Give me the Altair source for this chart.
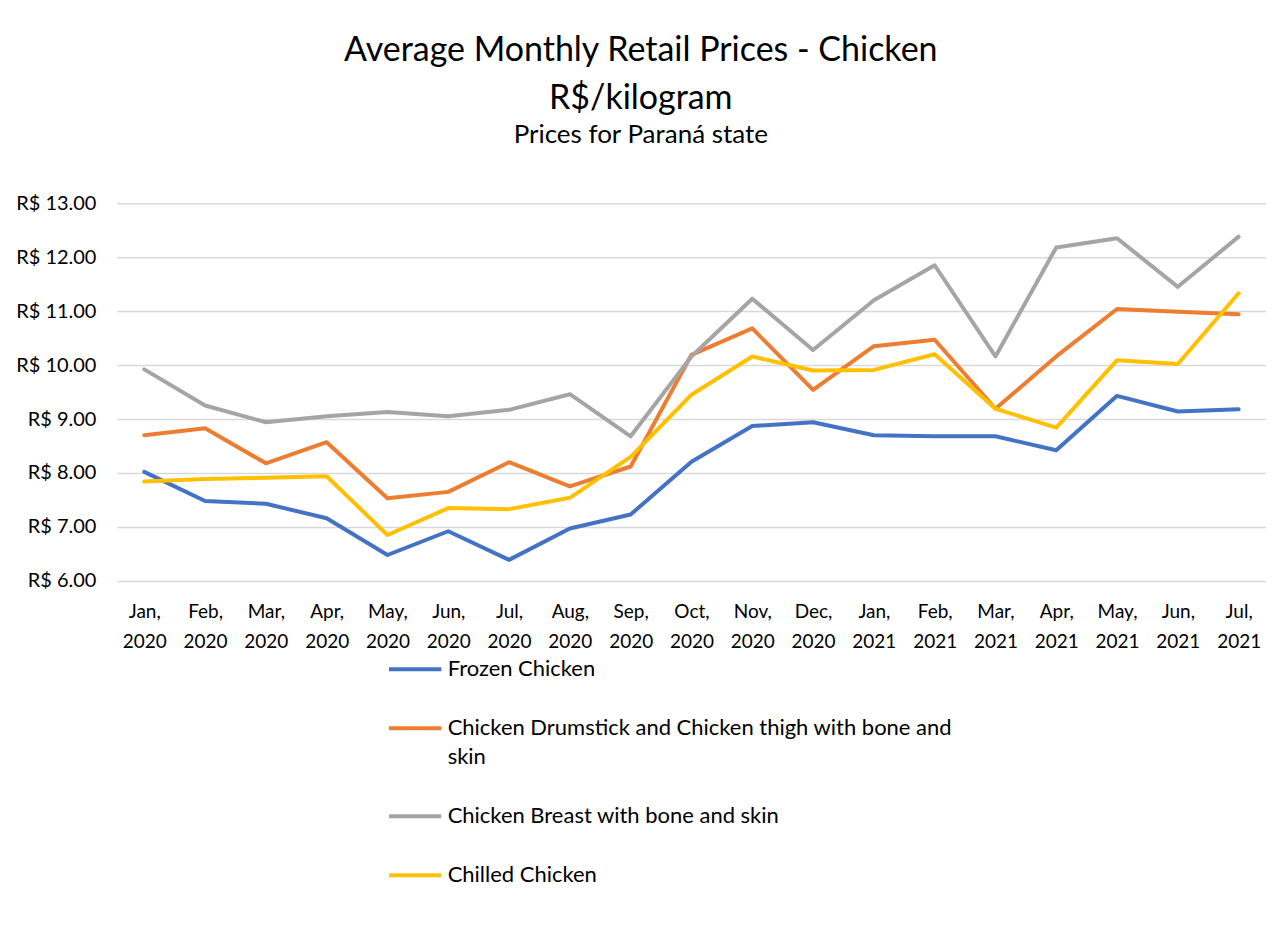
import altair as alt
import pandas as pd

months = ["Jan, 2020", "Feb, 2020", "Mar, 2020", "Apr, 2020", "May, 2020", "Jun, 2020",
          "Jul, 2020", "Aug, 2020", "Sep, 2020", "Oct, 2020", "Nov, 2020", "Dec, 2020",
          "Jan, 2021", "Feb, 2021", "Mar, 2021", "Apr, 2021", "May, 2021", "Jun, 2021",
          "Jul, 2021"]

series_names = ["Frozen Chicken",
                "Chicken Drumstick and Chicken thigh with bone and skin",
                "Chicken Breast with bone and skin",
                "Chilled Chicken"]

frozen = [8.02, 7.48, 7.43, 7.16, 6.48, 6.92, 6.39, 6.97, 7.23, 8.21, 8.87, 8.94,
          8.70, 8.68, 8.68, 8.42, 9.43, 9.14, 9.18]
drumstick = [8.70, 8.83, 8.18, 8.57, 7.53, 7.65, 8.20, 7.75, 8.12, 10.19, 10.68, 9.54,
             10.35, 10.47, 9.19, 10.16, 11.04, 10.99, 10.94]
breast = [9.92, 9.25, 8.94, 9.05, 9.13, 9.05, 9.17, 9.46, 8.68, 10.16, 11.23, 10.28,
          11.20, 11.85, 10.16, 12.18, 12.35, 11.45, 12.38]
chilled = [7.84, 7.89, 7.91, 7.94, 6.85, 7.35, 7.33, 7.54, 8.30, 9.45, 10.16, 9.90,
           9.91, 10.20, 9.19, 8.84, 10.09, 10.02, 11.33]

colors = ["#4472C4", "#ED7D31", "#A5A5A5", "#FFC000"]

rows = []
for name, vals in zip(series_names, [frozen, drumstick, breast, chilled]):
    for m, v in zip(months, vals):
        rows.append({"Month": m, "Series": name, "Price": v})
df = pd.DataFrame(rows)

FONT = "Lato"

legend_label_expr = (
    "datum.label == 'Chicken Drumstick and Chicken thigh with bone and skin' ? "
    "['Chicken Drumstick and Chicken thigh with bone and', 'skin'] : datum.label"
)

chart = alt.Chart(df).mark_line(strokeWidth=4, strokeCap="round", strokeJoin="round").encode(
    x=alt.X("Month:N", sort=months, title=None,
            scale=alt.Scale(padding=0.45),
            axis=alt.Axis(labelAngle=0, labelExpr="split(datum.label, ' ')",
                          labelLineHeight=30, labelBaseline="top", labelPadding=22,
                          ticks=False, domain=False, grid=False,
                          labelFontSize=19, labelColor="#000000", labelFont=FONT)),
    y=alt.Y("Price:Q", title=None,
            scale=alt.Scale(domain=[6, 13], nice=False, zero=False),
            axis=alt.Axis(values=[6, 7, 8, 9, 10, 11, 12, 13],
                          labelExpr="'R$ ' + format(datum.value, '.2f')",
                          ticks=False, domain=False, grid=True,
                          gridColor="#D9D9D9", gridWidth=1.5,
                          labelFontSize=20, labelColor="#000000", labelFont=FONT,
                          labelPadding=21)),
    color=alt.Color("Series:N",
                    scale=alt.Scale(domain=series_names, range=colors),
                    legend=alt.Legend(title=None, orient="none", legendX=270, legendY=438,
                                      direction="vertical",
                                      symbolType="stroke", symbolSize=2750,
                                      symbolStrokeWidth=4,
                                      labelFontSize=22, labelFont=FONT, labelColor="#000000",
                                      labelLimit=800, labelExpr=legend_label_expr,
                                      labelBaseline="middle", labelOffset=4,
                                      rowPadding=19)),
).properties(
    width=1150,
    height=378,
    title=alt.TitleParams(
        text=["Average Monthly Retail Prices - Chicken", "R$/kilogram"],
        subtitle="Prices for Paraná state",
        anchor="middle", frame="bounds",
        font=FONT, fontSize=34, fontWeight="normal", color="#000000", lineHeight=48,
        subtitleFont=FONT, subtitleFontSize=26, subtitleColor="#000000",
        subtitlePadding=6, offset=45),
).configure(
    padding={"left": 7, "top": 26, "right": 0, "bottom": 5},
    style={"guide-label": {"lineHeight": 29}},
    view=alt.ViewConfig(stroke=None),
)

chart.save("out.html", embed_options={"renderer": "svg", "actions": False})
